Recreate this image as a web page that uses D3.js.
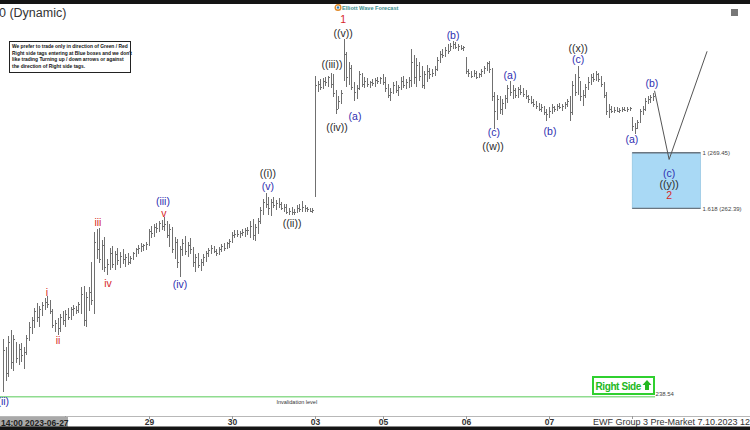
<!DOCTYPE html>
<html>
<head>
<meta charset="utf-8">
<script src="https://cdn.jsdelivr.net/npm/d3@7"></script>
<style>
  body { margin: 0; background: #fff; }
  svg { display: block; font-family: "Liberation Sans", Arial, sans-serif; }
</style>
</head>
<body>
<div id="chart"></div>
<script>
// 30 min bars, [high, low, close]
var jun27 = [[245.8,239.2,244.5],[244.8,240.5,241.5],[246.2,241.0,245.5],[247.0,242.0,243.0],[246.3,241.8,245.8],[245.5,242.8,243.5],
  [245.2,242.6,244.6],[245.4,243.0,243.8],[244.8,242.0,244.2],[246.3,243.8,246.0],[248.0,245.6,247.4],[248.6,246.5,248.2],
  [249.8,247.2,249.4],[250.4,248.0,248.6],[250.0,247.4,249.6],[250.6,248.8,250.2],[251.0,249.5,250.6],[251.3,249.8,250.3],
  [250.8,249.0,249.4],[249.6,247.2,247.6],[248.3,246.8,247.9],[248.5,246.4,247.2],[249.0,246.7,248.6],[249.4,247.6,248.3]]
var jun28 = [[249.5,247.4,249.0],[249.8,248.2,248.6],[249.9,248.3,249.6],[250.1,248.8,249.8],[250.0,249.0,249.5],[250.5,249.2,250.3],
  [252.5,249.0,251.5],[252.6,247.5,248.2],[251.8,247.4,251.2],[252.4,249.4,251.8],[255.6,250.2,250.8],[259.4,249.0,258.2],
  [259.8,256.0,257.2],[259.9,255.5,256.0],[258.4,254.6,257.8],[258.8,254.3,255.0],[256.0,253.9,255.4],[257.4,254.6,256.8],
  [257.6,254.8,255.4],[257.0,254.6,256.6],[257.4,255.2,255.8],[256.9,254.9,256.4],[257.2,255.4,256.0],[256.6,255.0,256.2],
  [256.8,255.2,255.6],[256.4,255.4,256.1],[256.9,255.8,256.7],[257.4,256.2,257.2],[257.8,256.6,257.4],[258.0,256.9,257.6],
  [257.9,257.0,257.7],[258.2,257.1,257.9]]
var jun29 = [[259.8,257.6,259.5],[260.2,258.6,259.3],[260.4,258.8,260.1],[260.6,259.3,259.9],[260.8,259.4,260.5],[260.9,259.6,260.2],
  [261.3,259.5,260.4],[260.8,258.6,259.0],[260.4,257.5,259.8],[260.1,256.8,257.2],[258.8,256.0,258.2],[258.5,254.9,255.6],
  [257.6,253.7,257.2],[258.5,256.4,258.0],[258.9,256.5,257.0],[258.2,256.2,257.8],[258.6,256.6,257.2],[257.5,255.0,255.6],
  [256.6,254.4,256.2],[256.8,254.8,255.2],[256.0,254.5,255.6],[256.6,255.1,256.3],[257.0,255.6,256.8],[257.4,256.2,257.1],
  [257.8,256.6,257.4],[257.6,256.8,257.0],[257.2,256.4,256.8],[257.5,256.5,257.3],[257.9,256.9,257.6],[258.0,257.0,257.4],
  [258.2,257.2,258.0],[258.5,257.4,258.3]]
var jun30 = [[259.4,258.0,259.0],[259.6,258.6,259.2],[259.7,258.8,259.1],[259.5,258.7,259.3],[259.8,258.9,259.4],[259.9,258.8,259.6],
  [260.0,259.0,259.7],[260.8,258.6,260.2],[261.0,258.4,259.0],[260.4,258.3,260.0],[261.2,259.2,260.8],[262.6,260.4,262.2],
  [263.6,261.5,263.2],[264.3,262.4,263.0],[263.8,261.6,262.4],[263.6,261.4,263.2],[263.9,262.4,262.8],[263.5,262.2,263.1],
  [263.7,262.5,262.9],[263.2,262.2,262.4],[263.0,261.9,262.6],[262.9,261.7,262.0],[262.4,261.6,262.1],[262.6,261.5,261.9],
  [262.3,261.6,262.0],[262.8,261.8,262.5],[263.0,262.0,262.3],[263.4,262.0,262.6],[262.8,262.0,262.4],[262.6,262.0,262.3],
  [262.5,261.9,262.1],[262.4,261.8,262.2]]
var jul03 = [[279.2,263.8,278.0],[278.6,277.2,278.2],[278.8,277.4,277.8],[278.9,277.5,278.6],[279.0,277.9,278.4],[279.2,277.8,279.0],
  [279.6,277.6,278.2],[279.4,276.5,277.0],[277.4,274.4,275.0],[276.6,275.0,276.0],[277.4,275.6,277.0],[283.8,278.5,282.0],
  [282.2,277.8,279.0],[281.0,278.0,280.2],[280.6,277.4,277.8],[278.4,276.0,277.2],[278.0,276.2,277.6],[279.8,277.4,279.4],
  [279.6,277.8,278.2],[279.0,277.6,278.6],[278.9,277.8,278.2],[278.6,277.7,278.4],[278.8,277.9,278.3],[278.9,277.8,278.7],
  [279.0,278.1,278.6],[279.1,278.2,278.9]]
var jul05 = [[279.4,278.0,278.4],[279.0,277.2,277.6],[278.2,276.4,276.8],[277.6,276.0,277.2],[278.4,276.9,278.0],[278.6,277.0,277.4],
  [278.0,276.6,277.8],[279.0,277.4,278.6],[279.2,277.6,278.0],[278.8,277.5,278.4],[279.0,277.6,278.7],[282.6,277.8,281.0],
  [281.8,278.2,279.0],[281.4,277.8,280.6],[281.0,278.6,279.2],[280.4,277.6,278.0],[279.8,277.5,279.4],[280.6,278.4,279.8],
  [280.2,278.8,279.4],[280.0,279.0,279.6],[280.4,279.2,280.1],[281.6,279.8,281.2],[282.4,280.8,282.0],[282.6,281.4,281.8],
  [282.8,281.6,282.5],[283.2,282.0,282.4],[283.4,282.3,283.0],[283.6,282.6,283.2],[283.5,282.6,282.9],[283.2,282.4,283.0],
  [283.1,282.5,282.7],[283.0,282.4,282.8]]
var jul06 = [[281.6,279.4,279.8],[280.0,279.0,279.5],[279.8,278.9,279.2],[279.9,279.0,279.6],[279.8,278.8,279.0],[279.6,278.9,279.4],
  [280.0,279.1,279.8],[280.4,279.4,280.2],[281.0,279.8,280.8],[281.1,279.6,280.0],[280.2,276.0,276.6],[277.2,272.5,274.8],
  [276.8,273.6,276.2],[276.6,274.4,275.0],[276.2,274.2,275.8],[276.8,275.0,276.4],[278.0,275.8,277.6],[278.5,276.6,277.2],
  [278.0,276.2,277.4],[277.6,276.4,276.8],[277.8,276.4,277.5],[278.0,276.8,277.2],[277.6,276.5,276.9],[277.4,276.2,276.6],
  [276.8,275.8,276.2],[276.6,275.6,275.9],[276.2,275.3,275.6],[276.0,275.0,275.4],[275.8,274.8,275.0],[275.6,274.6,275.2],
  [275.4,274.2,274.6],[275.0,273.5,274.4]]
var jul07 = [[275.2,273.8,274.8],[275.6,274.4,275.2],[275.4,274.6,275.0],[275.6,274.8,275.4],[275.8,275.0,275.2],[275.6,274.8,275.4],
  [275.9,275.0,275.6],[276.2,275.2,276.0],[276.6,273.5,274.6],[278.6,274.2,278.0],[279.4,276.6,277.2],[280.4,276.8,279.0],
  [278.6,276.0,276.6],[277.4,275.4,276.8],[278.2,276.4,277.8],[279.0,277.4,278.4],[279.4,278.0,279.0],[279.6,278.4,278.8],
  [279.8,278.6,279.4],[279.6,278.4,278.8],[279.2,277.8,278.2],[278.4,276.4,276.8],[277.2,274.2,274.8],[275.6,273.8,275.0],
  [275.4,274.5,274.8],[275.2,274.5,274.9],[275.2,274.6,274.8],[275.1,274.5,274.9],[275.2,274.6,275.0],[275.3,274.7,274.9],
  [275.2,274.6,275.0],[275.3,274.7,275.1]]
var jul10 = [[274.0,272.2,272.8],[273.2,271.8,272.6],[273.6,272.4,273.4],[275.0,273.2,274.8],[275.4,274.2,275.0],[276.4,274.8,276.0],
  [276.6,275.6,276.2],[276.8,275.8,276.5],[277.0,276.0,276.6]]

var dayBars = [jun27, jun28, jun29, jun30, jul03, jul05, jul06, jul07, jul10]
var dayLabels = ["", "", "29", "30", "03", "05", "06", "07", ""]

// wave labels: [text, bar position, price]
var redLabels = [["i",16.9,251.8],["ii",21.2,245.7],["iii",36.5,260.6],["iv",40.4,252.9],["v",61.9,261.8],["1",130.8,286.3],["2",256.2,264.0]]
var blueLabels = [["(ii)",0.1,238.0],["(iii)",61.5,263.3],["(iv)",68.1,252.8],["(v)",101.9,265.2],["(a)",135.4,274.1],["(b)",173.1,284.3],
  ["(c)",188.8,272.0],["(a)",195,279.2],["(b)",210.4,272.2],["(c)",221.2,281.3],["(a)",241.9,271.1],["(b)",249.6,278.3],["(c)",256.2,266.9]]
var blackLabels = [["((i))",101.9,266.8],["((ii))",111.2,260.5],["((iii))",126.5,280.7],["((iv))",128.5,272.7],["((v))",130.8,284.6],
  ["((w))",188.5,270.2],["((x))",221.2,282.7],["((y))",256.2,265.4]]

var fibNames = ["1", "1.618"]
var fibValues = [269.45, 262.39]
var boxFrom = 242.0, boxTo = 268.3
var projPos = [250.6, 256.2, 270.8]
var projPrice = [277.3, 268.6, 282.3]
var invalidation = 238.54

var W = 750, H = 430
var svg = d3.select('#chart').append('svg').attr('width', W).attr('height', H)

var x = d3.scaleLinear().domain([0, 250]).range([3, 653])
var y = d3.scaleLinear().domain([236.1, 288.8]).range([416, 0])

svg.append('defs').append('clipPath').attr('id', 'plot')
  .append('rect').attr('x', 0).attr('y', 0).attr('width', W).attr('height', 416)

var plot = svg.append('g').attr('clip-path', 'url(#plot)')

// flatten the days, remember where each day starts
var bars = []
var dayStart = []
dayBars.forEach(function(d) {
  dayStart.push(bars.length)
  d.forEach(function(b) { bars.push(b) })
})

// invalidation line
plot.append('line')
  .attr('x1', 0).attr('x2', x(250.8))
  .attr('y1', y(invalidation)).attr('y2', y(invalidation))
  .attr('stroke', '#8fdc8f').attr('stroke-width', 1.5)

// fib box
plot.append('rect')
  .attr('x', x(boxFrom)).attr('y', y(fibValues[0]))
  .attr('width', x(boxTo) - x(boxFrom)).attr('height', y(fibValues[1]) - y(fibValues[0]))
  .attr('fill', '#a9d9f5').attr('stroke', '#8bbfdc').attr('stroke-width', 0.6)
fibValues.forEach(function(v, k) {
  plot.append('line')
    .attr('x1', x(boxFrom)).attr('x2', x(boxTo))
    .attr('y1', y(v)).attr('y2', y(v))
    .attr('stroke', '#6b7680').attr('stroke-width', 1.3)
  plot.append('text')
    .attr('x', x(boxTo) + 2).attr('y', y(v)).attr('dy', '0.35em')
    .attr('font-size', 6).attr('fill', '#444')
    .text(fibNames[k] + ' (' + v.toFixed(2) + ')')
})

// bars
var g = plot.append('g').attr('stroke', '#707070').attr('shape-rendering', 'crispEdges')
bars.forEach(function(b, i) {
  var px = Math.round(x(i)) + 0.5
  g.append('line').attr('x1', px).attr('x2', px).attr('y1', y(b[0])).attr('y2', y(b[1]))
  g.append('line').attr('x1', px).attr('x2', px + 1.5).attr('y1', Math.round(y(b[2])) + 0.5).attr('y2', Math.round(y(b[2])) + 0.5)
})

// projection path
var line = d3.line().x(function(d) { return x(d[0]) }).y(function(d) { return y(d[1]) })
plot.append('path')
  .attr('d', line(projPos.map(function(p, k) { return [p, projPrice[k]] })))
  .attr('fill', 'none').attr('stroke', '#555').attr('stroke-width', 1)

function addLabels(list, color, size) {
  plot.selectAll(null).data(list).enter().append('text')
    .attr('x', function(d) { return x(d[1]) })
    .attr('y', function(d) { return y(d[2]) })
    .attr('dy', '0.35em')
    .attr('text-anchor', 'middle')
    .attr('font-size', size)
    .attr('fill', color)
    .text(function(d) { return d[0] })
}
addLabels(redLabels, '#d62828', 10.5)
addLabels(blueLabels, '#2e2eb0', 10.5)
addLabels(blackLabels, '#2a2a2a', 10.5)

plot.append('text')
  .attr('x', x(113)).attr('y', y(invalidation) + 5).attr('dy', '0.35em')
  .attr('text-anchor', 'middle').attr('font-size', 5.5).attr('fill', '#333')
  .text('Invalidation level')
plot.append('text')
  .attr('x', x(251)).attr('y', y(invalidation) - 3).attr('dy', '0.35em')
  .attr('font-size', 6).attr('fill', '#444')
  .text(invalidation.toFixed(2))

// right side tag
var tag = plot.append('g')
tag.append('rect').attr('x', 593).attr('y', 377).attr('width', 61).attr('height', 17)
  .attr('fill', '#fff').attr('stroke', '#2fd02f').attr('stroke-width', 2)
tag.append('text').attr('x', 595.5).attr('y', 389.5)
  .attr('font-size', 10).attr('font-weight', 'bold').attr('fill', '#22b822')
  .attr('letter-spacing', -0.4)
  .text('Right Side')
tag.append('path').attr('d', 'M647,380 L651.5,385 L649,385 L649,390 L645,390 L645,385 L642.5,385 Z')
  .attr('fill', '#22b822')

// x axis
svg.append('line').attr('x1', 0).attr('x2', W).attr('y1', 416.5).attr('y2', 416.5)
  .attr('stroke', '#b8b8b8')
dayStart.forEach(function(s, k) {
  if (k === 0) return
  var px = Math.round(x(s)) + 0.5
  svg.append('line').attr('x1', px).attr('x2', px).attr('y1', 416).attr('y2', 419).attr('stroke', '#999')
  if (dayLabels[k]) {
    svg.append('text').attr('x', px).attr('y', 425)
      .attr('text-anchor', 'middle').attr('font-size', 8.5).attr('font-weight', 'bold').attr('fill', '#333')
      .text(dayLabels[k])
  }
})
svg.append('rect').attr('x', 0).attr('y', 417).attr('width', 68).attr('height', 11).attr('fill', '#a9a9a9')
svg.append('text').attr('x', 1).attr('y', 425.5)
  .attr('font-size', 8.5).attr('font-weight', 'bold').attr('fill', '#222')
  .text('14:00 2023-06-27')
svg.append('text').attr('x', 593).attr('y', 425)
  .attr('font-size', 9).attr('fill', '#333')
  .text('EWF Group 3 Pre-Market 7.10.2023 12:00')

// title and note box
svg.append('text').attr('x', -1).attr('y', 17).attr('font-size', 12.5).attr('fill', '#333').text('0 (Dynamic)')
svg.append('rect').attr('x', 9.5).attr('y', 41.5).attr('width', 121).attr('height', 31)
  .attr('fill', '#fff').attr('stroke', '#222').attr('stroke-width', 1)
var note = ["We prefer to trade only in direction of Green / Red",
  "Right side tags entering at Blue boxes and we don't",
  "like trading Turning up / down arrows or against",
  "the direction of Right side tags."]
note.forEach(function(t, k) {
  svg.append('text').attr('x', 12).attr('y', 48 + k * 6.6)
    .attr('font-size', 4.9).attr('font-weight', 'bold').attr('fill', '#111').text(t)
})

// logo
svg.append('circle').attr('cx', 338).attr('cy', 7.5).attr('r', 2.8)
  .attr('fill', 'none').attr('stroke', '#e08a2a').attr('stroke-width', 1.4)
svg.append('circle').attr('cx', 338).attr('cy', 7.5).attr('r', 1.2).attr('fill', '#2a7fbf')
svg.append('text').attr('x', 342).attr('y', 9.5).attr('font-size', 5.6).attr('font-weight', 'bold')
  .attr('fill', '#3b8e8e').text('Elliott Wave Forecast')

// small icon top right
svg.append('rect').attr('x', 731).attr('y', 9).attr('width', 7).attr('height', 7).attr('fill', '#777')

// dark bands
svg.append('rect').attr('x', 0).attr('y', 0).attr('width', W).attr('height', 4).attr('fill', '#151515')
svg.append('rect').attr('x', 0).attr('y', 426.5).attr('width', W).attr('height', 4).attr('fill', '#151515')
</script>
</body>
</html>
